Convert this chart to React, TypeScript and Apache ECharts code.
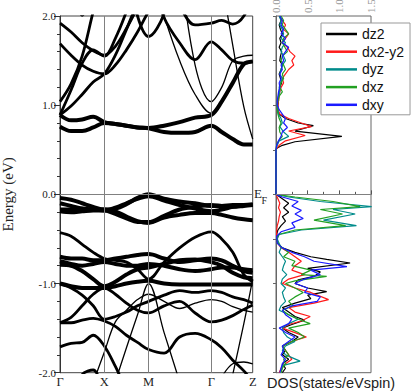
import React, { useEffect, useRef } from "react";
import * as echarts from "echarts";

// ---- band structure k-path ----
const K_TICKS = [0, 1, 2, 3.414, 4.35];
const K_LABELS = ["Γ", "X", "M", "Γ", "Z"];
const K_GRID = [0, 0.25, 0.5, 0.75, 1, 1.25, 1.5, 1.75, 2, 2.35, 2.7, 3.05, 3.414, 3.65, 3.9, 4.15, 4.35];
const _ = null;

// conduction bands (eV), one value per K_GRID point
const cb1 = [0.76, 0.71, 0.71, 0.75, 0.8, 0.79, 0.77, 0.75, 0.74, 0.7, 0.69, 0.7, 0.77, 0.7, 0.62, 0.56, 0.56];
const cb2 = [0.89, 0.83, 0.84, 0.87, 0.81, 0.79, 0.77, 0.75, 0.745, 0.77, 0.81, 0.86, 0.89, 1.04, 1.25, 1.46, 1.49];
const cb3 = [0.89, 0.99, 1.12, 1.26, 1.35, 1.56, 1.85, 2.15, 2.4, _, _, _, _, _, _, _, _];
const cb4 = [0.89, 1.17, 1.47, 1.62, 1.55, 1.75, 2.05, 2.4, _, _, _, _, _, _, _, _, _];
const cb5 = [1.04, 1.24, 1.55, 2.05, 2.5, _, _, _, _, _, _, _, _, _, _, _, _];
const cb6 = [1.69, 1.56, 1.45, 1.38, 1.35, 1.45, 1.62, 1.82, 2.05, 2.3, _, _, _, _, _, _, _];
const cb7 = [1.92, 1.82, 1.7, 1.61, 1.56, 1.66, 1.86, 2.1, 2.4, _, _, _, _, _, _, _, _];
const cb8 = [_, 2.3, 2.0, 2.3, _, _, _, _, _, _, _, _, _, _, _, _, _];
const cbV = [_, _, _, _, _, _, 2.6, 2.0, 1.77, 2.03, 2.8, _, _, _, _, _, _];
const cb9 = [_, _, _, _, _, _, _, _, _, 2.5, 2.12, 1.9, 1.92, 1.95, 1.91, 2.0, 2.25];
const cb10 = [_, _, _, _, _, _, _, _, 2.5, 1.98, 1.7, 1.51, 1.71, 1.62, 1.5, 1.47, 1.49];
const cbP1 = [_, _, _, _, _, _, _, _, _, _, 2.64, 1.45, 1.04, 1.2, 1.5, 1.55, 1.56];
const cbP2 = [_, _, _, _, _, _, _, _, _, 2.0, 1.5, 1.12, 0.91, 1.03, 1.24, 1.45, 1.49];
const cbS = [_, _, _, _, _, _, _, _, _, _, _, _, _, 2.4, 1.67, 0.98, 0.62];

// valence bands (eV)
const vb1 = [-0.04, -0.06, -0.1, -0.14, -0.17, -0.16, -0.11, -0.04, 0.0, -0.05, -0.08, -0.1, -0.13, -0.13, -0.12, -0.12, -0.12];
const vb2 = [-0.1, -0.13, -0.16, -0.17, -0.17, -0.19, -0.25, -0.3, -0.32, -0.26, -0.23, -0.21, -0.21, -0.23, -0.26, -0.28, -0.29];
const vb3 = [-0.17, -0.17, -0.16, -0.17, -0.18, -0.15, -0.1, -0.05, -0.02, -0.07, -0.12, -0.16, -0.19, -0.17, -0.14, -0.12, -0.11];
const vb4 = [-0.19, -0.2, -0.19, -0.18, -0.18, -0.22, -0.27, -0.31, -0.31, -0.24, -0.17, -0.14, -0.12, -0.13, -0.14, -0.13, -0.12];
const vb5 = [-0.43, -0.47, -0.56, -0.65, -0.72, -0.74, -0.76, -0.84, -0.95, -0.76, -0.6, -0.48, -0.42, -0.5, -0.65, -0.9, -0.98];
const vb6 = [-0.7, -0.72, -0.72, -0.74, -0.74, -0.72, -0.7, -0.68, -0.67, -0.72, -0.76, -0.74, -0.72, -0.74, -0.8, -0.86, -0.88];
const vb7 = [-0.75, -0.78, -0.8, -0.78, -0.76, -0.78, -0.8, -0.8, -0.78, -0.8, -0.84, -0.86, -0.84, -0.82, -0.82, -0.84, -0.85];
const vb8 = [-0.79, -0.8, -0.86, -0.95, -1.03, -0.98, -0.9, -0.84, -0.82, -0.78, -0.74, -0.73, -0.76, -0.8, -0.88, -0.93, -0.94];
const vb9 = [-1.0, -1.03, -1.05, -1.05, -1.05, -1.03, -1.0, -0.98, -0.97, -1.0, -1.01, -1.01, -1.01, -1.01, -1.01, -1.01, -1.01];
const vb10 = [-1.0, -1.05, -1.13, -1.25, -1.4, -1.37, -1.32, -1.25, -1.2, -1.13, -1.08, -1.1, -1.08, -1.1, -1.15, -1.18, -1.22];
const vb11 = [-1.44, -1.38, -1.25, -1.12, -1.05, -1.12, -1.22, -1.3, -1.33, -1.25, -1.2, -1.33, -1.43, -1.41, -1.36, -1.29, -1.24];
const vb12 = [-1.44, -1.44, -1.41, -1.39, -1.42, -1.48, -1.58, -1.66, -1.74, -1.78, -1.6, -1.56, -1.63, -1.72, -1.86, -1.98, -2.1];
const vb13 = [-1.71, -1.67, -1.66, -1.58, -1.7, -1.93, -2.2, _, _, _, _, _, _, _, _, _, _];
const vb14 = [_, _, _, -2.11, -1.77, -1.43, -1.3, -1.18, -1.12, -1.2, -1.28, -1.22, -1.18, -1.2, -1.26, -1.3, -1.32];
const vb15 = [_, _, _, _, _, -2.1, -1.72, -1.35, -1.0, -1.55, -2.1, _, _, _, _, _, _];
const vb16 = [_, _, _, _, _, _, _, _, _, _, _, _, _, -2.6, -2.02, -1.45, -0.95];
const vb17 = [_, _, _, _, _, _, _, _, _, _, _, _, -2.3, -2.05, -1.9, -1.88, -1.9];
const vb18 = [_, -2.3, -2.02, -1.97, -2.25, _, _, _, _, _, _, _, _, _, _, _, _];

const THICK = [cb1, cb2, vb1, vb2, vb3, vb4, vb6, vb7, vb8, vb9];
const MEDIUM = [cb3, cb4, cb5, cb6, cb7, cbV, cb9, cb10, vb5, vb10, vb11, vb12, vb13, vb18];
const THIN = [cb8, cbP1, cbP2, cbS, vb14, vb15, vb16, vb17];

// ---- projected DOS: [energy (eV), DOS (states/eV spin)] ----
const dz2 = [[2.0,0.06],[1.95,0.08],[1.9,0.05],[1.85,0.07],[1.8,0.1],[1.75,0.06],[1.7,0.08],[1.65,0.05],[1.6,0.09],[1.55,0.07],[1.5,0.06],[1.45,0.1],[1.4,0.08],[1.35,0.05],[1.3,0.07],[1.25,0.09],[1.2,0.06],[1.15,0.05],[1.1,0.04],[1.05,0.04],[1.0,0.03],[0.95,0.03],[0.9,0.05],[0.85,0.15],[0.8,0.35],[0.77,0.59],[0.71,0.3],[0.65,1.04],[0.59,0.3],[0.55,0.1],[0.52,0.02],[0.5,0],[0,0],[-0.05,0.1],[-0.1,0.2],[-0.15,0.12],[-0.2,0.2],[-0.25,0.1],[-0.3,0.15],[-0.35,0.08],[-0.4,0.03],[-0.45,0.01],[-0.5,0.01],[-0.55,0.03],[-0.6,0.1],[-0.65,0.3],[-0.7,0.55],[-0.73,0.8],[-0.77,1.17],[-0.83,0.5],[-0.87,0.7],[-0.92,0.6],[-0.96,0.35],[-1.0,0.3],[-1.05,0.5],[-1.09,0.8],[-1.13,0.5],[-1.17,0.55],[-1.22,0.3],[-1.27,0.1],[-1.32,0.2],[-1.37,0.3],[-1.41,0.45],[-1.46,0.25],[-1.5,0.1],[-1.55,0.2],[-1.6,0.35],[-1.65,0.25],[-1.7,0.1],[-1.75,0.15],[-1.8,0.1],[-1.85,0.2],[-1.9,0.1],[-1.95,0.15],[-2.0,0.1]];
const dx2y2 = [[2.0,0.05],[1.95,0.1],[1.9,0.15],[1.85,0.12],[1.8,0.2],[1.75,0.15],[1.7,0.1],[1.65,0.18],[1.6,0.22],[1.55,0.3],[1.5,0.25],[1.45,0.28],[1.4,0.2],[1.35,0.15],[1.3,0.1],[1.25,0.12],[1.2,0.08],[1.15,0.06],[1.1,0.05],[1.05,0.04],[1.0,0.03],[0.95,0.03],[0.9,0.06],[0.85,0.2],[0.8,0.4],[0.76,0.56],[0.71,0.2],[0.66,0.46],[0.6,0.15],[0.55,0.05],[0.5,0],[0,0],[-0.05,0.03],[-0.1,0.06],[-0.15,0.04],[-0.2,0.07],[-0.25,0.05],[-0.3,0.04],[-0.35,0.02],[-0.4,0.01],[-0.5,0.01],[-0.55,0.03],[-0.6,0.08],[-0.65,0.2],[-0.7,0.3],[-0.75,0.4],[-0.8,0.3],[-0.85,0.25],[-0.9,0.45],[-0.95,0.2],[-1.0,0.1],[-1.05,0.3],[-1.1,0.55],[-1.18,0.83],[-1.22,0.6],[-1.27,0.2],[-1.32,0.3],[-1.37,0.54],[-1.42,0.4],[-1.46,0.2],[-1.5,0.1],[-1.55,0.3],[-1.6,0.48],[-1.65,0.25],[-1.7,0.1],[-1.75,0.15],[-1.8,0.2],[-1.85,0.25],[-1.9,0.15],[-1.95,0.08],[-2.0,0.05]];
const dyz = [[2.0,0.05],[1.95,0.08],[1.9,0.06],[1.85,0.1],[1.8,0.12],[1.75,0.08],[1.7,0.15],[1.65,0.1],[1.6,0.08],[1.55,0.12],[1.5,0.15],[1.45,0.1],[1.4,0.08],[1.35,0.06],[1.3,0.1],[1.25,0.07],[1.2,0.05],[1.15,0.06],[1.1,0.04],[1.05,0.03],[1.0,0.02],[0.95,0.03],[0.9,0.04],[0.85,0.08],[0.8,0.1],[0.76,0.06],[0.7,0.12],[0.65,0.2],[0.6,0.05],[0.55,0.02],[0.5,0],[0.0,0],[-0.03,0.2],[-0.08,0.7],[-0.137,1.51],[-0.17,0.9],[-0.22,1.25],[-0.29,0.75],[-0.35,1.27],[-0.4,0.4],[-0.45,0.05],[-0.5,0.02],[-0.55,0.05],[-0.6,0.08],[-0.65,0.05],[-0.7,0.1],[-0.75,0.15],[-0.8,0.12],[-0.85,0.1],[-0.9,0.17],[-0.95,0.1],[-1.0,0.08],[-1.05,0.15],[-1.1,0.1],[-1.15,0.12],[-1.2,0.15],[-1.25,0.08],[-1.3,0.05],[-1.35,0.2],[-1.4,0.35],[-1.45,0.2],[-1.5,0.1],[-1.55,0.12],[-1.6,0.18],[-1.65,0.3],[-1.7,0.15],[-1.75,0.1],[-1.8,0.15],[-1.87,0.38],[-1.92,0.1],[-2.0,0.08]];
const dxz = [[2.0,0.08],[1.95,0.12],[1.9,0.1],[1.85,0.15],[1.8,0.2],[1.75,0.12],[1.7,0.1],[1.65,0.14],[1.6,0.18],[1.55,0.1],[1.5,0.08],[1.45,0.12],[1.4,0.15],[1.35,0.1],[1.3,0.12],[1.25,0.08],[1.2,0.06],[1.15,0.1],[1.1,0.05],[1.05,0.03],[1.0,0.02],[0.95,0.02],[0.9,0.03],[0.85,0.05],[0.8,0.08],[0.75,0.05],[0.7,0.06],[0.65,0.1],[0.6,0.04],[0.55,0.01],[0.5,0],[0.0,0],[-0.03,0.3],[-0.08,0.9],[-0.137,1.33],[-0.17,0.7],[-0.22,1.05],[-0.29,0.6],[-0.35,1.1],[-0.4,0.3],[-0.45,0.04],[-0.5,0.01],[-0.55,0.03],[-0.6,0.1],[-0.65,0.2],[-0.7,0.12],[-0.75,0.3],[-0.8,0.25],[-0.85,0.55],[-0.9,0.4],[-0.92,0.8],[-0.97,0.3],[-1.0,0.15],[-1.05,0.3],[-1.1,0.43],[-1.15,0.3],[-1.2,0.2],[-1.25,0.27],[-1.3,0.1],[-1.35,0.2],[-1.4,0.35],[-1.45,0.54],[-1.5,0.2],[-1.55,0.35],[-1.6,0.45],[-1.65,0.25],[-1.7,0.1],[-1.75,0.15],[-1.8,0.2],[-1.85,0.12],[-1.9,0.15],[-1.95,0.1],[-2.0,0.08]];
const dxy = [[2.0,0.06],[1.95,0.1],[1.9,0.08],[1.85,0.12],[1.8,0.08],[1.75,0.15],[1.7,0.1],[1.65,0.2],[1.6,0.15],[1.55,0.1],[1.5,0.12],[1.45,0.08],[1.4,0.1],[1.35,0.06],[1.3,0.08],[1.25,0.05],[1.2,0.06],[1.15,0.04],[1.1,0.03],[1.05,0.02],[1.0,0.02],[0.95,0.05],[0.9,0.1],[0.85,0.15],[0.8,0.12],[0.75,0.18],[0.7,0.1],[0.65,0.08],[0.6,0.04],[0.55,0.01],[0.5,0],[0.0,0],[-0.03,0.1],[-0.08,0.35],[-0.13,0.25],[-0.18,0.4],[-0.22,0.3],[-0.27,0.43],[-0.32,0.25],[-0.37,0.3],[-0.42,0.08],[-0.47,0.01],[-0.55,0.02],[-0.6,0.1],[-0.65,0.25],[-0.7,0.45],[-0.75,0.6],[-0.81,1.12],[-0.85,0.55],[-0.9,0.7],[-0.95,0.45],[-1.0,0.3],[-1.05,0.5],[-1.1,0.45],[-1.15,0.7],[-1.2,0.65],[-1.25,0.25],[-1.3,0.1],[-1.35,0.15],[-1.4,0.25],[-1.45,0.2],[-1.5,0.05],[-1.55,0.15],[-1.6,0.3],[-1.65,0.2],[-1.7,0.1],[-1.75,0.12],[-1.8,0.08],[-1.85,0.15],[-1.9,0.1],[-1.95,0.08],[-2.0,0.06]];

const DOS_NAMES = ["dz2", "dx2-y2", "dyz", "dxz", "dxy"];
const DOS_DATA = [dz2, dx2y2, dyz, dxz, dxy];
const DOS_COLORS = ["#000000", "#ff1a1a", "#008b8b", "#22a022", "#1a1aff"];

const SERIF = "'Liberation Serif', 'Times New Roman', serif";
const SANS = "'Liberation Sans', Arial, sans-serif";

function bandSeries(arr: (number | null)[], width: number) {
  return {
    type: "line",
    xAxisIndex: 0,
    yAxisIndex: 0,
    data: K_GRID.map((k, i) => [k, arr[i] === null ? "-" : arr[i]]),
    smooth: 0.35,
    showSymbol: false,
    symbol: "none",
    clip: true,
    silent: true,
    z: 3,
    lineStyle: { color: "#000", width },
  };
}

export default function App() {
  const ref = useRef<HTMLDivElement>(null);
  useEffect(() => {
    document.body.style.margin = "0";
    const chart = echarts.init(ref.current!, null, { renderer: "svg" });
    const series: any[] = [];
    series.push({
      type: "line",
      xAxisIndex: 0,
      yAxisIndex: 0,
      data: [],
      silent: true,
      z: 1,
      markLine: {
        silent: true,
        symbol: ["none", "none"],
        label: { show: false },
        animation: false,
        lineStyle: { color: "#808080", width: 1, type: "solid" },
        data: [{ xAxis: K_TICKS[1] }, { xAxis: K_TICKS[2] }, { xAxis: K_TICKS[3] }, { yAxis: 0 }],
      },
    });
    THICK.forEach((b) => series.push(bandSeries(b, 4)));
    MEDIUM.forEach((b) => series.push(bandSeries(b, 2.8)));
    THIN.forEach((b) => series.push(bandSeries(b, 1.3)));
    DOS_DATA.forEach((d, i) => {
      series.push({
        name: DOS_NAMES[i],
        type: "line",
        xAxisIndex: 1,
        yAxisIndex: 1,
        data: d.map((p) => [p[1], p[0]]),
        showSymbol: false,
        symbol: "none",
        clip: true,
        z: 3,
        lineStyle: { color: DOS_COLORS[i], width: 1.2 },
        itemStyle: { color: DOS_COLORS[i] },
        markLine:
          i === 0
            ? {
                silent: true,
                symbol: ["none", "none"],
                label: { show: false },
                lineStyle: { color: "#808080", width: 1, type: "solid" },
                data: [{ yAxis: 0 }],
              }
            : undefined,
      });
    });

    chart.setOption({
      animation: false,
      backgroundColor: "#fff",
      grid: [
        { left: 60, top: 16, width: 192.7, height: 356.7, show: true, borderColor: "#444", borderWidth: 1, backgroundColor: "transparent", containLabel: false, outerBoundsMode: "none" },
        { left: 276, top: 16, width: 95, height: 356.7, show: true, borderColor: "#666", borderWidth: 1, backgroundColor: "transparent", containLabel: false, outerBoundsMode: "none" },
      ],
      xAxis: [
        {
          gridIndex: 0,
          type: "value",
          min: 0,
          max: 4.35,
          axisLine: { show: true, lineStyle: { color: "#444" } },
          axisTick: { show: false },
          splitLine: { show: false },
          axisLabel: {
            customValues: K_TICKS,
            formatter: (v: number) => {
              const i = K_TICKS.findIndex((t) => Math.abs(t - v) < 1e-6);
              return i >= 0 ? K_LABELS[i] : "";
            },
            fontFamily: SERIF,
            fontSize: 12.5,
            color: "#222",
            margin: 3,
          },
        },
        {
          gridIndex: 1,
          type: "value",
          position: "top",
          min: 0,
          max: 1.5,
          interval: 0.5,
          axisLine: { show: true, lineStyle: { color: "#555" } },
          axisTick: { show: true, length: 4, lineStyle: { color: "#555" } },
          minorTick: { show: true, splitNumber: 2, length: 2.5, lineStyle: { color: "#555" } },
          splitLine: { show: false },
          axisLabel: {
            rotate: 90,
            formatter: (v: number) => v.toFixed(1),
            fontFamily: SERIF,
            fontSize: 11,
            color: "#999",
            margin: 3,
          },
        },
      ],
      yAxis: [
        {
          gridIndex: 0,
          type: "value",
          min: -2,
          max: 2,
          interval: 1,
          axisLine: { show: true, lineStyle: { color: "#333" } },
          axisTick: { show: true, length: 6, lineStyle: { color: "#333" } },
          minorTick: { show: true, splitNumber: 5, length: 3, lineStyle: { color: "#333" } },
          splitLine: { show: false },
          axisLabel: {
            formatter: (v: number) => v.toFixed(1),
            fontFamily: SERIF,
            fontSize: 11,
            color: "#222",
            margin: 4,
          },
          name: "Energy (eV)",
          nameLocation: "middle",
          nameGap: 45,
          nameTextStyle: { fontFamily: SERIF, fontSize: 15, color: "#222" },
        },
        {
          gridIndex: 1,
          type: "value",
          min: -2,
          max: 2,
          interval: 0.5,
          axisLine: { show: true, lineStyle: { color: "#666" } },
          axisTick: { show: true, length: 3, lineStyle: { color: "#666" } },
          splitLine: { show: false },
          axisLabel: { show: false },
        },
      ],
      legend: {
        data: DOS_NAMES,
        orient: "vertical",
        left: 321,
        top: 23,
        padding: [4, 6, 3, 5],
        icon: "rect",
        itemWidth: 31,
        itemHeight: 2.5,
        itemGap: 3.7,
        backgroundColor: "#fff",
        borderColor: "#999",
        borderWidth: 1,
        borderRadius: 0,
        selectedMode: false,
        textStyle: { fontFamily: SANS, fontSize: 14, color: "#111", lineHeight: 14 },
      },
      graphic: [
        { type: "text", left: 254, top: 187, style: { text: "E", font: `13px ${SERIF}`, fill: "#222" } },
        { type: "text", left: 261.5, top: 195, style: { text: "F", font: `10px ${SERIF}`, fill: "#222" } },
        { type: "text", left: 267, top: 375, style: { text: "DOS(states/eVspin)", font: `14.5px ${SANS}`, fill: "#222" } },
      ],
      series,
    });
    return () => chart.dispose();
  }, []);
  return <div ref={ref} style={{ width: 416, height: 392 }} />;
}
